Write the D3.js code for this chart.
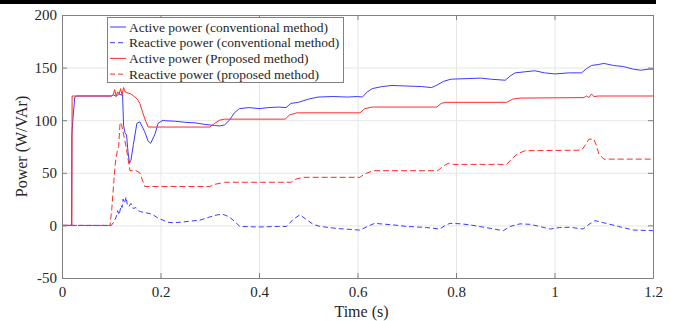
<!DOCTYPE html>
<html>
<head>
<meta charset="utf-8">
<script src="https://cdn.jsdelivr.net/npm/d3@7"></script>
<style>
  body { margin: 0; background: #fff; }
  svg { display: block; }
</style>
</head>
<body>
<svg id="chart"></svg>
<script>
// series as [time (s), power] pairs
const activeConv = [[0,0],[0.0195,0],[0.02,86],[0.022,100],[0.026,122],[0.03,123],[0.1,123],[0.105,124],[0.11,122.5],[0.115,125],[0.12,124],[0.123,124],[0.125,95],[0.128,88],[0.131,86],[0.134,70],[0.137,59],[0.14,62],[0.145,77],[0.152,97],[0.158,98.5],[0.168,89],[0.175,80],[0.18,78],[0.189,87],[0.195,97],[0.205,100],[0.21,99.5],[0.23,99],[0.25,98],[0.27,97.5],[0.29,96],[0.31,95],[0.32,94.5],[0.33,95.5],[0.34,100],[0.35,107],[0.36,111],[0.38,112],[0.4,111],[0.42,112],[0.44,112.5],[0.455,112],[0.465,116],[0.48,117],[0.5,120],[0.52,122],[0.55,122.5],[0.58,122],[0.6,122.5],[0.61,122],[0.62,127],[0.63,130],[0.65,132],[0.67,133],[0.7,132.5],[0.73,132],[0.75,131],[0.76,133],[0.775,137],[0.79,139],[0.82,139.5],[0.85,140],[0.87,139],[0.9,138],[0.91,142],[0.92,145],[0.94,146],[0.96,147],[0.98,145],[1.0,144],[1.03,145],[1.055,145],[1.065,149],[1.075,152],[1.09,153],[1.1,154],[1.12,152],[1.14,151],[1.16,148.5],[1.175,147.5],[1.19,148.5],[1.2,148.5]];

const reactiveConv = [[0,0],[0.1,0],[0.105,3],[0.11,8],[0.113,14],[0.116,10],[0.12,19],[0.122,17],[0.124,25],[0.127,21],[0.13,27],[0.133,19],[0.136,18],[0.14,21],[0.145,16],[0.15,17],[0.155,14],[0.16,13],[0.17,12],[0.18,11],[0.185,10],[0.195,7],[0.205,5],[0.215,3],[0.226,2.5],[0.24,3],[0.26,4],[0.28,5],[0.3,8],[0.315,10],[0.327,10.5],[0.34,8],[0.35,4],[0.361,-1],[0.4,-1.5],[0.44,-1],[0.456,-1],[0.47,6],[0.483,10],[0.495,6],[0.51,1],[0.524,-1],[0.56,-3],[0.591,-4],[0.605,-4.5],[0.62,-1],[0.635,2],[0.646,1.5],[0.672,0.5],[0.7,-1],[0.74,-2],[0.767,-3.5],[0.778,0],[0.788,2],[0.81,1.5],[0.828,0.5],[0.86,-2],[0.896,-5],[0.91,-1],[0.93,1.5],[0.95,1],[0.97,-1],[0.991,-3.5],[1.01,-2],[1.031,-1.8],[1.058,-3.4],[1.07,1],[1.082,4.5],[1.1,2.5],[1.13,-1],[1.16,-4.4],[1.2,-5]];

const activeProp = [[0,0],[0.02,0],[0.0205,123],[0.1,123],[0.104,124],[0.107,129],[0.11,123],[0.113,127],[0.116,125],[0.119,130],[0.122,124],[0.125,131],[0.128,127],[0.133,126],[0.14,125],[0.148,122],[0.153,120],[0.158,116],[0.164,107],[0.17,99],[0.175,93.5],[0.3,93.5],[0.31,97],[0.32,100],[0.33,101],[0.453,101],[0.462,105],[0.477,107],[0.605,107],[0.615,111],[0.63,112.5],[0.761,112.5],[0.77,116],[0.78,117],[0.903,117],[0.915,120],[0.93,121],[1.06,121.5],[1.065,123],[1.07,121.5],[1.075,125],[1.08,122.5],[1.09,123],[1.2,123]];

const reactiveProp = [[0,0],[0.0975,0],[0.101,15],[0.105,40],[0.108,58],[0.112,70],[0.115,75],[0.118,98],[0.121,96],[0.13,75],[0.138,52],[0.15,52],[0.158,50],[0.168,37],[0.3,37],[0.31,39],[0.33,41],[0.465,41],[0.475,44],[0.49,45.7],[0.605,45.7],[0.615,49],[0.632,52],[0.763,52],[0.773,56],[0.784,59],[0.795,58],[0.903,58],[0.915,64],[0.925,68],[0.94,71],[1.055,71.5],[1.065,78],[1.07,82],[1.08,82],[1.085,76],[1.09,68],[1.1,63],[1.2,63]];

const xTicks = [0, 0.2, 0.4, 0.6, 0.8, 1, 1.2];
const yTicks = [-50, 0, 50, 100, 150, 200];
const legendLabels = [
  "Active power (conventional method)",
  "Reactive power (conventional method)",
  "Active power (Proposed method)",
  "Reactive power (proposed method)"
];

const W = 676, H = 321;
const mLeft = 62, mRight = 653, mTop = 15, mBottom = 278;
const font = "'Liberation Serif', serif";

const svg = d3.select("#chart").attr("width", W).attr("height", H);

// thin black strip along the top edge
svg.append("rect").attr("x", 0).attr("y", 0).attr("width", 656).attr("height", 4).attr("fill", "#000");

const x = d3.scaleLinear().domain([0, 1.2]).range([mLeft, mRight]);
const y = d3.scaleLinear().domain([-50, 200]).range([mBottom, mTop]);

// grid
svg.append("g")
  .attr("transform", "translate(0," + mBottom + ")")
  .call(d3.axisBottom(x).tickValues(xTicks).tickSize(-(mBottom - mTop)).tickFormat(""))
  .call(g => g.select(".domain").remove())
  .call(g => g.selectAll("line").attr("stroke", "#e6e6e6"));
svg.append("g")
  .attr("transform", "translate(" + mLeft + ",0)")
  .call(d3.axisLeft(y).tickValues(yTicks).tickSize(-(mRight - mLeft)).tickFormat(""))
  .call(g => g.select(".domain").remove())
  .call(g => g.selectAll("line").attr("stroke", "#e6e6e6"));

const series = [
  { data: activeConv, color: "#3b3bff", dash: null },
  { data: reactiveConv, color: "#3b3bff", dash: "5,3" },
  { data: activeProp, color: "#ff2a2a", dash: null },
  { data: reactiveProp, color: "#ff2a2a", dash: "6,3" }
];

const line = d3.line().x(d => x(d[0])).y(d => y(d[1]));

series.forEach(s => {
  svg.append("path")
    .datum(s.data)
    .attr("d", line)
    .attr("fill", "none")
    .attr("stroke", s.color)
    .attr("stroke-width", 1)
    .attr("stroke-dasharray", s.dash);
});

// axes box with inward ticks
function styleAxis(g) {
  g.attr("font-family", font);
  g.select(".domain").attr("stroke", "#808080");
  g.selectAll(".tick line").attr("stroke", "#808080");
  g.selectAll("text").attr("fill", "#262626").style("font-family", font).style("font-size", "15px");
}

svg.append("g")
  .attr("transform", "translate(0," + mBottom + ")")
  .call(d3.axisBottom(x).tickValues(xTicks).tickSizeInner(-5).tickSizeOuter(0).tickPadding(8).tickFormat(d => String(d)))
  .call(styleAxis);
svg.append("g")
  .attr("transform", "translate(0," + mTop + ")")
  .call(d3.axisTop(x).tickValues(xTicks).tickSizeInner(-5).tickSizeOuter(0).tickFormat(""))
  .call(styleAxis);
svg.append("g")
  .attr("transform", "translate(" + mLeft + ",0)")
  .call(d3.axisLeft(y).tickValues(yTicks).tickSizeInner(-5).tickSizeOuter(0).tickPadding(5).tickFormat(d => String(d)))
  .call(styleAxis);
svg.append("g")
  .attr("transform", "translate(" + mRight + ",0)")
  .call(d3.axisRight(y).tickValues(yTicks).tickSizeInner(-5).tickSizeOuter(0).tickFormat(""))
  .call(styleAxis);

// axis titles
svg.append("text")
  .attr("x", (mLeft + mRight) / 2 + 4).attr("y", 317)
  .attr("text-anchor", "middle")
  .style("font-family", font).style("font-size", "16px").attr("fill", "#262626")
  .text("Time (s)");
svg.append("text")
  .attr("transform", "translate(27," + (mTop + mBottom) / 2 + ") rotate(-90)")
  .attr("text-anchor", "middle")
  .style("font-family", font).style("font-size", "16px").attr("fill", "#262626")
  .text("Power (W/VAr)");

// legend
const legend = svg.append("g");
legend.append("rect")
  .attr("x", 107.5).attr("y", 17.5).attr("width", 236).attr("height", 65)
  .attr("fill", "#fff").attr("stroke", "#808080");
legendLabels.forEach((label, i) => {
  const ly = 27 + i * 15.7;
  legend.append("line")
    .attr("x1", 110).attr("x2", 126).attr("y1", ly).attr("y2", ly)
    .attr("stroke", series[i].color).attr("stroke-width", 1)
    .attr("stroke-dasharray", series[i].dash ? "5,3" : null);
  legend.append("text")
    .attr("x", 129).attr("y", ly + 4.5)
    .style("font-family", font).style("font-size", "13.5px").attr("fill", "#262626")
    .text(label);
});
</script>
</body>
</html>
